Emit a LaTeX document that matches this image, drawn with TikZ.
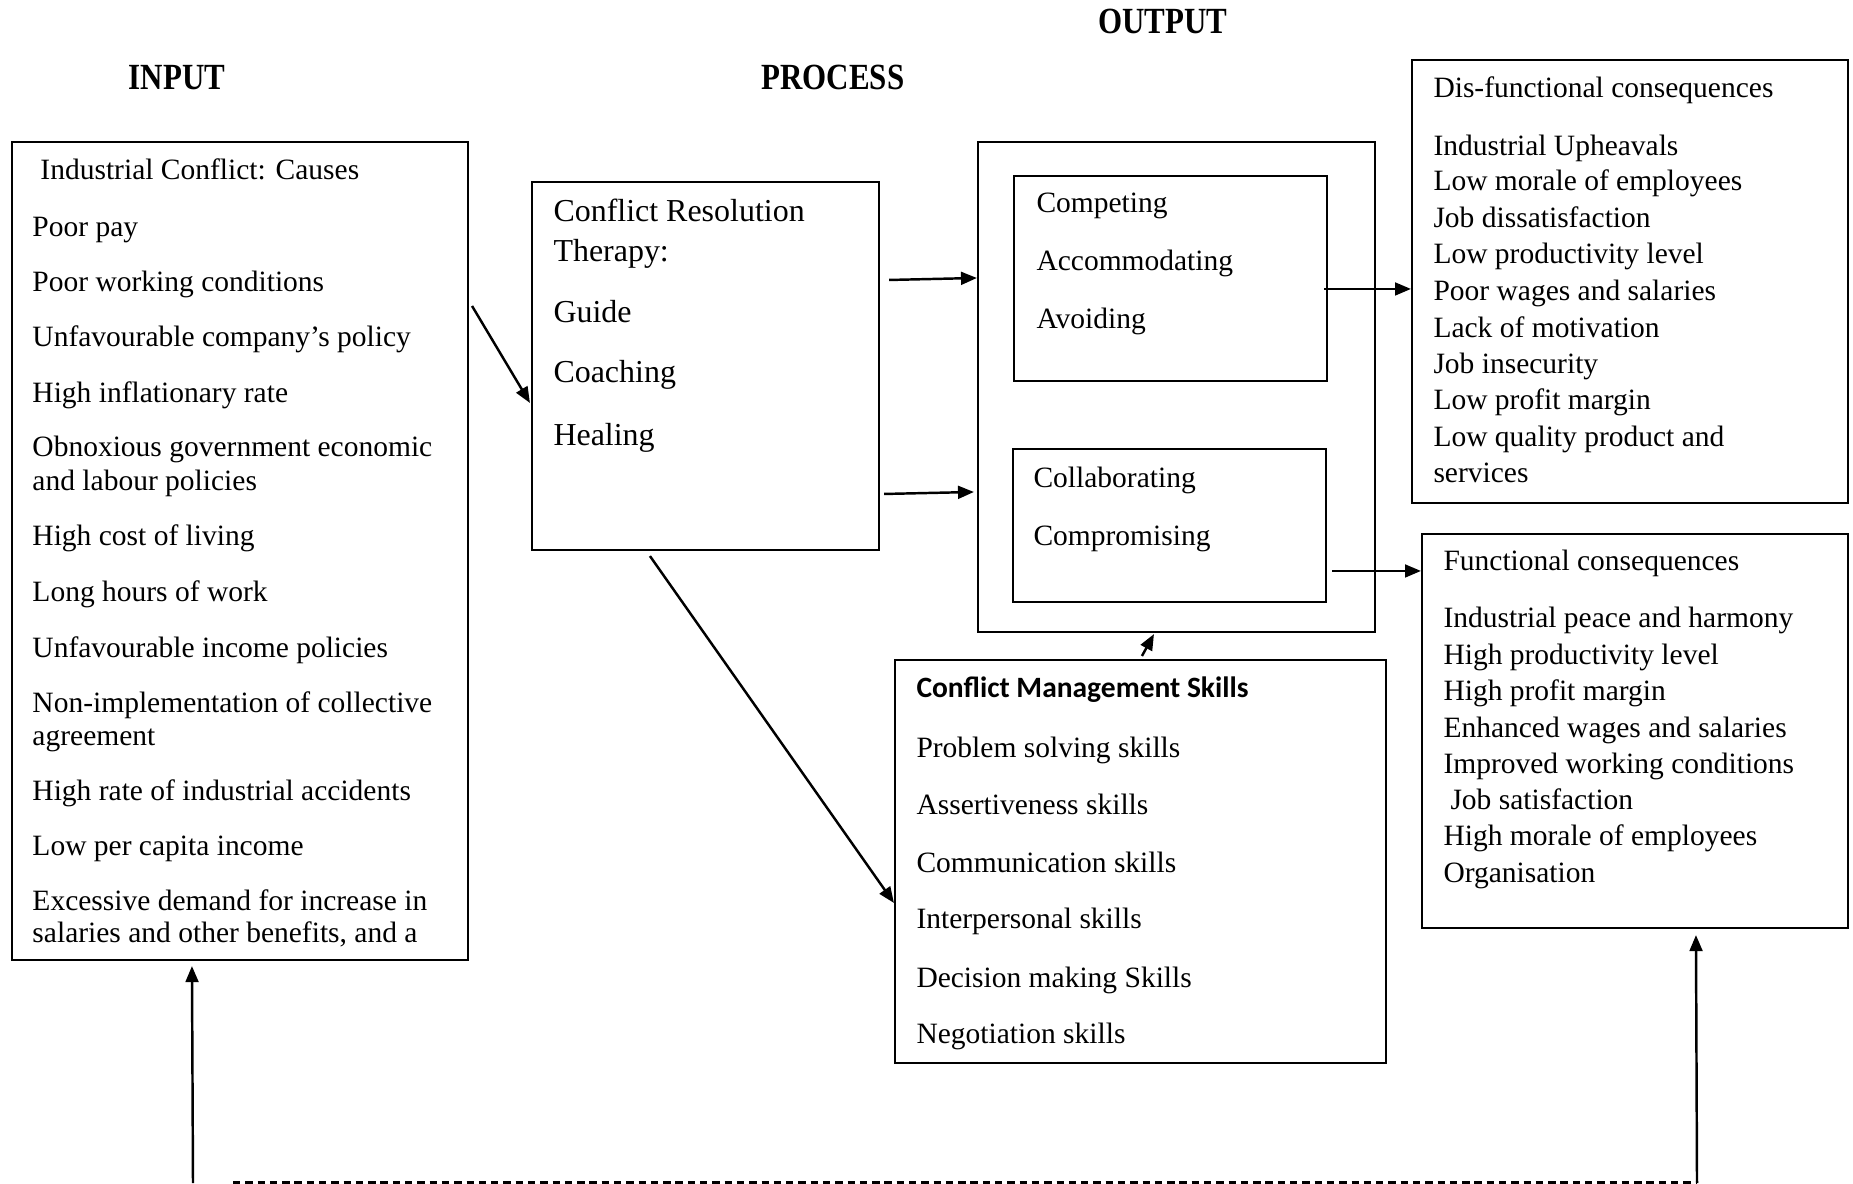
\documentclass[tikz,border=0pt]{standalone}
\usepackage{fontspec}
\setmainfont{Liberation Serif}
\newfontfamily\skillfont{Carlito}
\usetikzlibrary{arrows.meta,fit,calc}
\begin{document}
\begin{tikzpicture}[x=0.4068pt,y=-0.4068pt,
  box/.style={draw,line width=0.85pt,inner sep=0pt},
  txt/.style={anchor=base west,inner sep=0pt,font=\fontsize{12}{14}\selectfont},
  ptxt/.style={anchor=base west,inner sep=0pt,font=\fontsize{13}{15}\selectfont},
  ttl/.style={anchor=base,inner sep=0pt,font=\fontsize{15}{18}\selectfont\bfseries},
  arr/.style={line width=1pt,-{Triangle[length=6.5pt,width=5.2pt]}}]
\useasboundingbox (0,0) rectangle (1853,1183);
% titles
\node[ttl] (tin) at (177,89) {\scalebox{0.84}[1]{INPUT}};
\node[ttl] (tpr) at (833,89) {\scalebox{0.84}[1]{PROCESS}};
\node[ttl] (tout) at (1163,33) {\scalebox{0.84}[1]{OUTPUT}};
% boxes
\node[box,fit={(12,142) (468,960)}] (inbox) {};
\node[box,fit={(532,182) (879,550)}] (probox) {};
\node[box,fit={(978,142) (1375,632)}] (outbox) {};
\node[box,fit={(1014,176) (1327,381)}] (boxa) {};
\node[box,fit={(1013,449) (1326,602)}] (boxb) {};
\node[box,fit={(1412,60) (1848,503)}] (dis) {};
\node[box,fit={(1422,534) (1848,928)}] (func) {};
\node[box,fit={(895,660) (1386,1063)}] (skills) {};
% input texts
\node[txt] (in0) at (40,179) {Industrial Conflict: Causes};
\foreach \y/\t [count=\i] in {236/Poor pay,291/Poor working conditions,346/Unfavourable company’s policy,402/High inflationary rate,456/Obnoxious government economic,490/and labour policies,545/High cost of living,601/Long hours of work,657/Unfavourable income policies,712/Non-implementation of collective,745/agreement,800/High rate of industrial accidents,855/Low per capita income,910/Excessive demand for increase in,942/{salaries and other benefits, and a}}
  \node[txt] (in\i) at (32,\y) {\t};
% process texts
\foreach \y/\t [count=\i] in {221/Conflict Resolution,261/Therapy:,322/Guide,382/Coaching,445/Healing}
  \node[ptxt] (pr\i) at (553,\y) {\t};
% output inner texts
\foreach \y/\t [count=\i] in {212/Competing,270/Accommodating,328/Avoiding}
  \node[txt] (oa\i) at (1036,\y) {\t};
\foreach \y/\t [count=\i] in {487/Collaborating,545/Compromising}
  \node[txt] (ob\i) at (1033,\y) {\t};
% dysfunctional
\foreach \y/\t [count=\i] in {97/Dis-functional consequences,155/Industrial Upheavals,190/Low morale of employees,227/Job dissatisfaction,263/Low productivity level,300/Poor wages and salaries,337/Lack of motivation,373/Job insecurity,409/Low profit margin,446/Low quality product and,482/services}
  \node[txt] (ds\i) at (1433,\y) {\t};
% functional
\foreach \y/\t [count=\i] in {570/Functional consequences,627/Industrial peace and harmony,664/High productivity level,700/High profit margin,737/Enhanced wages and salaries,773/Improved working conditions,845/High morale of employees,882/Organisation}
  \node[txt] (fn\i) at (1443,\y) {\t};
\node[txt] (fnjs) at (1450,809) {Job satisfaction};
% skills
\node[anchor=base west,inner sep=0pt,font=\skillfont\bfseries\fontsize{12}{14}\selectfont] (sk0) at (916,697) {Conflict Management Skills};
\foreach \y/\t [count=\i] in {757/Problem solving skills,814/Assertiveness skills,872/Communication skills,928/Interpersonal skills,987/Decision making Skills,1043/Negotiation skills}
  \node[txt] (sk\i) at (916,\y) {\t};
% connectors
\draw[arr] ($(inbox.north east)+(3,165)$) -- ($(probox.north west)+(-1,222)$);
\draw[arr] ($(probox.north east)+(9,99)$) -- ($(outbox.north west)+(0,137)$);
\draw[arr] ($(probox.north east)+(4,313)$) -- ($(outbox.north west)+(-3,351)$);
\draw[arr] ($(probox.south west)+(119,5)$) -- ($(skills.north west)+(0,244)$);
\draw[arr] ($(skills.north west)+(248,-3)$) -- ($(outbox.south west)+(177,1)$);
\draw[arr] ($(boxa.north east)+(-4,114)$) -- ($(dis.north west)+(0,230)$);
\draw[arr] ($(boxb.north east)+(5,123)$) -- ($(func.north west)+(0,38)$);
\coordinate (bl) at (193,1183);
\coordinate (br) at (1697,1183);
\coordinate (dl) at (233,1183);
\draw[arr] (bl) -- ($(inbox.south west)+(181,5)$);
\draw[arr] (br) -- ($(func.south west)+(275,6)$);
\draw[line width=2pt,dash pattern=on 3pt off 2pt] (dl) -- (br |- dl);
\end{tikzpicture}
\end{document}
